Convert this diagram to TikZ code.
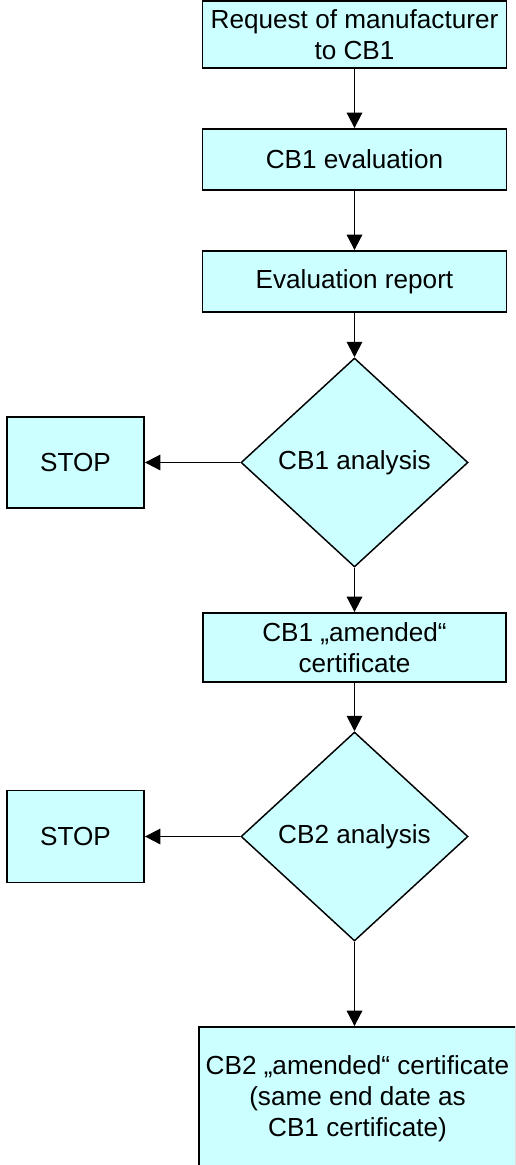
\documentclass[tikz,border=0pt]{standalone}
\usepackage{fontspec}
\setmainfont{Liberation Sans}
\usetikzlibrary{arrows.meta}
\usetikzlibrary{shapes.geometric}
\definecolor{boxcyan}{RGB}{204,255,255}
\tikzset{
  flowbox/.style={draw, fill=boxcyan, line width=1.4pt, align=center, inner sep=0pt},
  decision/.style={diamond, draw, fill=boxcyan, line width=1.1pt, inner sep=0pt, minimum width=170.25pt, minimum height=156.75pt},
  flowarrow/.style={line width=1.4pt, -{Triangle[length=11.5pt,width=11.5pt]}}
}

\begin{document}
\begin{tikzpicture}[x=0.75pt,y=0.75pt,yscale=-1,xscale=1,font=\fontsize{19.6}{23.4}\selectfont]
%set diagram size to 515 x 1165
\clip (0,0) rectangle (515,1165);

%Shape: Rectangle [request]
\node [flowbox, minimum width=228pt, minimum height=50.25pt] (request) at (354.5,34.5) {Request of manufacturer\\to CB1};
%Shape: Rectangle [evaluation]
\node [flowbox, minimum width=228pt, minimum height=45.75pt] (cbeval) at (354.5,159.5) {CB1 evaluation};
%Shape: Rectangle [report]
\node [flowbox, minimum width=228pt, minimum height=45.75pt] (report) at (354.5,281.5) {Evaluation report};
%Shape: Diamond [first analysis]
\node [decision] (analysis1) at (354.5,462.5) {CB1 analysis};
%Shape: Rectangle [first stop]
\node [flowbox, minimum width=102.75pt, minimum height=68.25pt] (stop1) at (75.5,462.5) {STOP};
%Shape: Rectangle [amended CB1]
\node [flowbox, minimum width=227.25pt, minimum height=51.75pt] (amended1) at (354.5,647.5) {CB1 „amended“\\certificate};
%Shape: Diamond [second analysis]
\node [decision] (analysis2) at (354.5,836.5) {CB2 analysis};
%Shape: Rectangle [second stop]
\node [flowbox, minimum width=102.75pt, minimum height=69pt] (stop2) at (75.5,836.5) {STOP};
%Shape: Rectangle [amended CB2]
\node [flowbox, minimum width=237.75pt, minimum height=107.25pt] (amended2) at (357.5,1098.5) {CB2 „amended“ certificate\\(same end date as\\CB1 certificate)};

%Straight Lines
\draw [flowarrow] (request) -- (cbeval);
\draw [flowarrow] (cbeval) -- (report);
\draw [flowarrow] (report) -- (analysis1);
\draw [flowarrow] (analysis1) -- (stop1);
\draw [flowarrow] (analysis1) -- (amended1);
\draw [flowarrow] (amended1) -- (analysis2);
\draw [flowarrow] (analysis2) -- (stop2);
\draw [flowarrow] (analysis2.south) -- (analysis2.south |- amended2.north);

\end{tikzpicture}
\end{document}
